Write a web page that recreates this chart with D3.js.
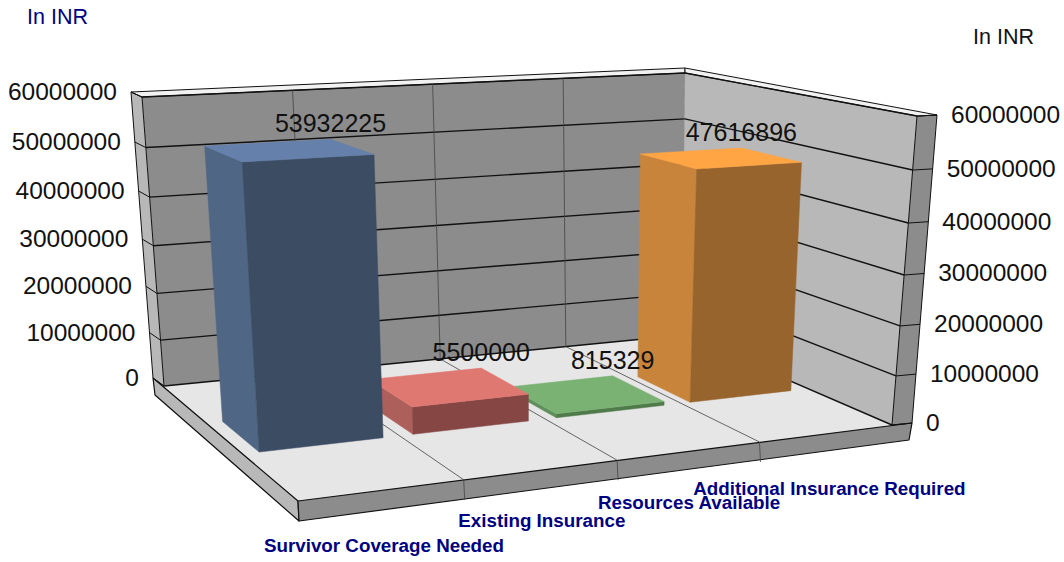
<!DOCTYPE html>
<html>
<head>
<meta charset="utf-8">
<script src="https://cdn.jsdelivr.net/npm/d3@7"></script>
<style>
  body { margin: 0; background: #fff; }
  text { font-family: "Liberation Sans", Arial, sans-serif; }
</style>
</head>
<body>
<div id="chart"></div>
<script>
// data
var categories = ["Survivor Coverage Needed", "Existing Insurance", "Resources Available", "Additional Insurance Required"];
var values = [53932225, 5500000, 815329, 47616896];
var tickValues = [0, 10000000, 20000000, 30000000, 40000000, 50000000, 60000000];

// colours per bar: top, left, front
var barColors = [
  ["#6580ab", "#4f6684", "#3c4c63"],
  ["#e07872", "#ac5f5b", "#854644"],
  ["#7ab274", "#5f8f5a", "#4f7a49"],
  ["#ffa544", "#c9843c", "#98642d"]
];

var width = 1064;
var height = 562;

var svg = d3
  .select("#chart")
  .append("svg")
  .attr("width", width)
  .attr("height", height)
  .style("display", "block");

// corners of the plot box on screen: front-left, front-right, back-right, back-left
var floorQuad = [[298, 501], [892, 425], [684, 335], [164, 386]];
var topQuad = [[280, 150], [917, 116], [685, 73], [142, 97]];

// unit square to quad homography
function homography(q) {
  var dx1 = q[1][0] - q[2][0], dx2 = q[3][0] - q[2][0], sx = q[0][0] - q[1][0] + q[2][0] - q[3][0];
  var dy1 = q[1][1] - q[2][1], dy2 = q[3][1] - q[2][1], sy = q[0][1] - q[1][1] + q[2][1] - q[3][1];
  var det = dx1 * dy2 - dx2 * dy1;
  var g = (sx * dy2 - dx2 * sy) / det;
  var h = (dx1 * sy - sx * dy1) / det;
  var a = q[1][0] - q[0][0] + g * q[1][0], b = q[3][0] - q[0][0] + h * q[3][0];
  var d = q[1][1] - q[0][1] + g * q[1][1], e = q[3][1] - q[0][1] + h * q[3][1];
  return function(u, v) {
    var w = g * u + h * v + 1;
    return [(a * u + b * v + q[0][0]) / w, (d * u + e * v + q[0][1]) / w];
  };
}

var floorAt = homography(floorQuad);
var topAt = homography(topQuad);

// height is slightly foreshortened towards the floor
function lift(t) {
  return t / (t + (1 - t) * 1.06);
}

// x and z in 0..1 (z=0 front, z=1 back), y in 0..1
function project(x, y, z) {
  var f = floorAt(x, z);
  // the top plane's left side is stretched a little in the original
  var t = topAt(x + 0.055 * x * (1 - x), z);
  var s = lift(y);
  return [f[0] + (t[0] - f[0]) * s, f[1] + (t[1] - f[1]) * s];
}

// scales
var xScale = d3.scaleBand().domain(categories).range([0, 0.99]).paddingInner(0.2).paddingOuter(0.1);
var yScale = d3.scaleLinear().domain([0, 60000000]).range([0, 1]);
var zFront = 0.365;
var zBack = 0.635;

var poly = d3.line();

function face(points, fill, stroke, sw) {
  return svg
    .append("path")
    .attr("d", poly(points) + "Z")
    .attr("fill", fill)
    .attr("stroke", stroke || "none")
    .attr("stroke-width", sw || 1)
    .attr("stroke-linejoin", "round");
}

function rule(a, b, color, sw) {
  svg
    .append("line")
    .attr("x1", a[0])
    .attr("y1", a[1])
    .attr("x2", b[0])
    .attr("y2", b[1])
    .attr("stroke", color)
    .attr("stroke-width", sw);
}

// outer edges of the wall thickness
var outerLeft = function(t) {
  var s = lift(t);
  return [153 + (131 - 153) * s, 378 + (92 - 378) * s];
};
var outerRight = function(t) {
  var s = lift(t);
  return [912 + (937 - 912) * s, 423 + (115 - 423) * s];
};

// walls
face([project(0, 0, 1), project(1, 0, 1), project(1, 1, 1), project(0, 1, 1)], "#8c8c8c");
face([project(1, 0, 1), project(1, 0, 0), project(1, 1, 0), project(1, 1, 1)], "#b8b8b8");

// floor and slab
face([[153, 378], [298, 501], [912, 423], [892, 425], [684, 335], [164, 386]], "#e6e6e6");
face([[153, 378], [298, 501], [299, 521], [155, 395]], "#b8b8b8", "#111", 1.2);
face([[298, 501], [912, 423], [909, 440], [299, 521]], "#8c8c8c", "#111", 1.2);

// wall ends and top strips
face([outerLeft(0), project(0, 0, 1), project(0, 1, 1), outerLeft(1)], "#b8b8b8", "#111", 1);
face([outerRight(0), project(1, 0, 0), project(1, 1, 0), outerRight(1)], "#8c8c8c", "#111", 1);
face([[131, 92], [685, 68], [685, 73], [142, 97]], "#f2f2f2", "#111", 1);
face([[685, 68], [937, 115], [917, 116], [685, 73]], "#f2f2f2", "#111", 1);

// horizontal gridlines
tickValues.forEach(function(d) {
  var t = yScale(d);
  rule(project(0, t, 1), project(1, t, 1), "#111", 1.4);
  rule(project(1, t, 1), project(1, t, 0), "#111", 1.4);
  rule(outerLeft(t), project(0, t, 1), "#111", 1);
  rule(outerRight(t), project(1, t, 0), "#111", 1);
});

// category dividers on wall, floor and slab
var step = 1 / categories.length;
d3.range(1, categories.length).forEach(function(i) {
  var x = i * step;
  rule(project(x, 0, 1), project(x, 1, 1), "#444", 0.8);
  rule(project(x, 0, 1), project(x, 0, 0), "#444", 0.8);
  var f = project(x, 0, 0);
  rule(f, [f[0] + 1, f[1] + 20], "#444", 0.8);
});

// bars, drawn right to left so the nearer ones cover the others
d3.range(categories.length - 1, -1, -1).forEach(function(i) {
  var x0 = xScale(categories[i]);
  var x1 = x0 + xScale.bandwidth();
  var y = yScale(values[i]);
  var c = barColors[i];
  face([project(x0, 0, zFront), project(x0, 0, zBack), project(x0, y, zBack), project(x0, y, zFront)], c[1], c[1], 0.5);
  face([project(x0, 0, zFront), project(x1, 0, zFront), project(x1, y, zFront), project(x0, y, zFront)], c[2], c[2], 0.5);
  face([project(x0, y, zFront), project(x1, y, zFront), project(x1, y, zBack), project(x0, y, zBack)], c[0], c[0], 0.5);
});

// value labels sit over the back right corner of each bar top
categories.forEach(function(d, i) {
  var p = project(xScale(d) + xScale.bandwidth(), yScale(values[i]), zBack);
  svg
    .append("text")
    .attr("x", p[0])
    .attr("y", p[1] - 7)
    .attr("text-anchor", "middle")
    .attr("font-size", 25)
    .attr("fill", "#111")
    .text(values[i]);
});

// left and right value axes
tickValues.forEach(function(d) {
  var l = outerLeft(yScale(d));
  var r = outerRight(yScale(d));
  svg
    .append("text")
    .attr("x", l[0] - 14)
    .attr("y", l[1] + 8)
    .attr("text-anchor", "end")
    .attr("font-size", 24.5)
    .attr("fill", "#111")
    .text(d);
  svg
    .append("text")
    .attr("x", r[0] + 14)
    .attr("y", r[1] + 8)
    .attr("font-size", 24.5)
    .attr("fill", "#111")
    .text(d);
});

// category labels under the slab, staggered a little as in the original
var labelNudge = [[1.5, 4], [0, -1], [-0.5, 0], [2.5, 4]];
categories.forEach(function(d, i) {
  var p = project((i + 0.5) * step, 0, 0);
  svg
    .append("text")
    .attr("x", p[0] + labelNudge[i][0])
    .attr("y", p[1] + 58 + labelNudge[i][1])
    .attr("text-anchor", "middle")
    .attr("font-size", 18.8)
    .attr("font-weight", "bold")
    .attr("fill", "#000080")
    .text(d);
});

// axis titles
svg.append("text").attr("x", 27).attr("y", 24).attr("font-size", 21.5).attr("fill", "#000080").text("In INR");
svg.append("text").attr("x", 973).attr("y", 44).attr("font-size", 21.5).attr("fill", "#111").text("In INR");
</script>
</body>
</html>
